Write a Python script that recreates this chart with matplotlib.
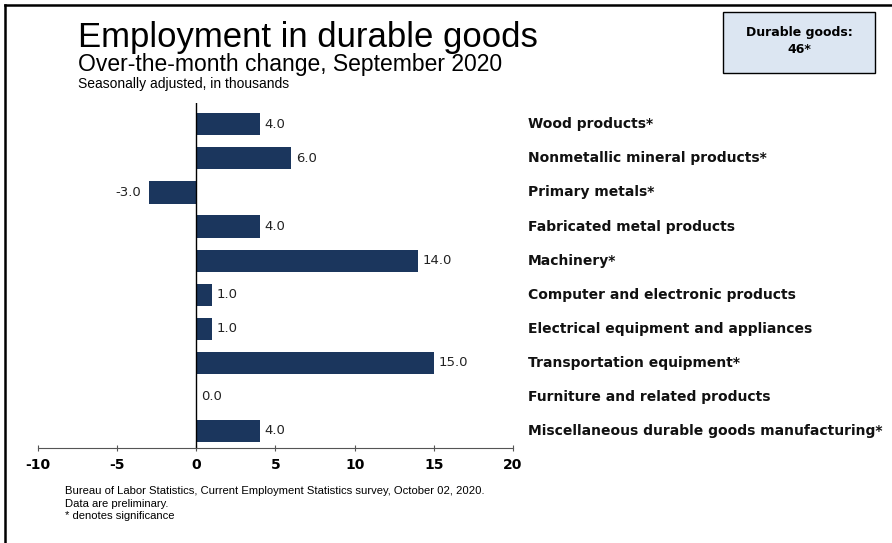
import matplotlib
matplotlib.use('Agg')
import matplotlib.pyplot as plt
from matplotlib.lines import Line2D
from matplotlib.patches import Rectangle

# Data
categories = [
    'Wood products*',
    'Nonmetallic mineral products*',
    'Primary metals*',
    'Fabricated metal products',
    'Machinery*',
    'Computer and electronic products',
    'Electrical equipment and appliances',
    'Transportation equipment*',
    'Furniture and related products',
    'Miscellaneous durable goods manufacturing*',
]
values = [4.0, 6.0, -3.0, 4.0, 14.0, 1.0, 1.0, 15.0, 0.0, 4.0]
xticks = [-10, -5, 0, 5, 10, 15, 20]
total_label = 'Durable goods:\n46*'

bar_color = '#1b365d'
W, H = 892, 543

fig = plt.figure(figsize=(8.92, 5.43), dpi=100)
ax = fig.add_axes([0.0426, 0.175, 0.5325, 0.635])

pos = list(range(len(categories)))
ax.barh(pos, values, height=0.65, color=bar_color)
ax.set_xlim(-10, 20)
ax.set_ylim(9.5, -0.62)

for p, v in zip(pos, values):
    if v < 0:
        ax.text(v - 0.5, p, f'{v:.1f}', ha='right', va='center', fontsize=9.5, color='#222222')
    else:
        ax.text(v + 0.3, p, f'{v:.1f}', ha='left', va='center', fontsize=9.5, color='#222222')
    # category label in right margin
    ax.text(20.95, p, categories[p], ha='left', va='center', fontsize=10,
            fontweight='bold', color='#111111', clip_on=False)

ax.axvline(0, color='black', lw=1)
for s in ['top', 'right', 'left']:
    ax.spines[s].set_visible(False)
ax.spines['bottom'].set_color('#555555')
ax.set_yticks([])
ax.set_xticks(xticks)
ax.set_xticklabels([str(t) for t in xticks], fontweight='bold', fontsize=10)
ax.tick_params(axis='x', direction='inout', length=5, color='#555555', pad=5)

# titles
fig.text(78 / W, 1 - 47 / H, 'Employment in durable goods', fontsize=25,
         family='Liberation Sans', va='baseline')
fig.text(78 / W, 1 - 71 / H, 'Over-the-month change, September 2020', fontsize=16.5,
         family='Liberation Sans', va='baseline')
fig.text(78 / W, 1 - 88 / H, 'Seasonally adjusted, in thousands', fontsize=10,
         family='Liberation Sans', va='baseline')

# total box
fig.add_artist(Rectangle((723 / W, 1 - 73 / H), 152 / W, 61 / H,
                         transform=fig.transFigure, facecolor='#dce6f2',
                         edgecolor='black', lw=1))
fig.text(799 / W, 1 - 41 / H, total_label, ha='center', va='center',
         fontsize=9, fontweight='bold', linespacing=1.45)

# footer
footer = [
    'Bureau of Labor Statistics, Current Employment Statistics survey, October 02, 2020.',
    'Data are preliminary.',
    '* denotes significance',
]
for line, y in zip(footer, [491, 504, 516]):
    fig.text(65 / W, 1 - y / H, line, fontsize=8.1, va='center', family='Liberation Sans')

# frame lines on left and top
fig.add_artist(Line2D([5 / W, 5 / W], [0, 1 - 5 / H], transform=fig.transFigure, color='black', lw=1.8))
fig.add_artist(Line2D([5 / W, 1], [1 - 5 / H, 1 - 5 / H], transform=fig.transFigure, color='black', lw=1.8))

fig.savefig('out.png', dpi=100)
plt.close(fig)
